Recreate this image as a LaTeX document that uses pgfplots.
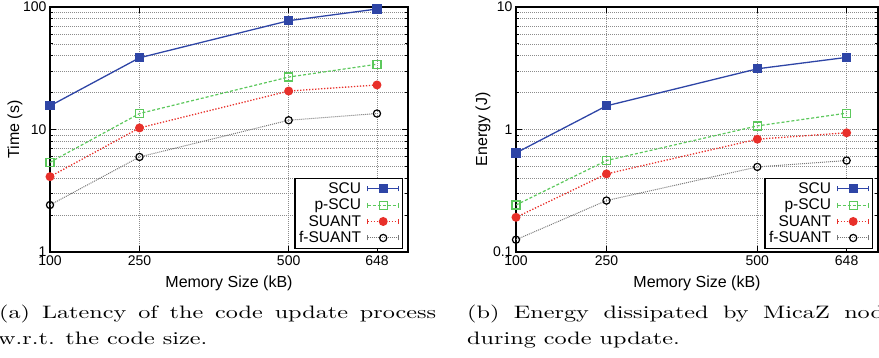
\documentclass[border=0pt]{standalone}
\usepackage{fontspec}
\setsansfont{Liberation Sans}
\usepackage{graphicx}
\usepackage{pgfplots}
\pgfplotsset{compat=1.18}
\definecolor{cscu}{RGB}{46,69,166}
\definecolor{cpscu}{RGB}{92,200,92}
\definecolor{csuant}{RGB}{232,48,42}
\definecolor{cgrid}{RGB}{140,140,140}
\definecolor{cfs}{RGB}{120,120,120}
\pgfplotsset{
  scu/.style={cscu, solid, line width=1.3pt, mark=square*, mark size=4pt, mark options={solid}},
  pscu/.style={cpscu, dash pattern=on 3pt off 2pt, line width=1.2pt, mark=square, mark size=4pt, mark options={solid, line width=1.2pt}},
  suant/.style={csuant, dash pattern=on 1.3pt off 1.7pt, line width=1.3pt, mark=*, mark size=3.8pt, mark options={solid}},
  fsuant/.style={cfs, dash pattern=on 1pt off 1pt, line width=1pt, mark=o, mark size=3.6pt, mark options={solid, black, line width=1.2pt}},
}
\begin{document}
\begin{tikzpicture}
\useasboundingbox (0pt,0pt) rectangle (879pt,357pt);
\begin{semilogyaxis}[
    scale only axis, height=245pt, width=358pt, at={(50pt,105pt)}, anchor=south west,
    xmin=100, xmax=700, ymin=1, ymax=100,
    log ticks with fixed point,
    xtick={100,250,500,648},
    axis line style={line width=2pt},
    tick style={line width=0.8pt, black},
    major tick length=6pt, minor tick length=3pt,
    xmajorgrids, ymajorgrids, yminorgrids,
    major grid style={dash pattern=on 1pt off 1pt, line width=0.75pt, cgrid},
    minor grid style={dash pattern=on 1pt off 1pt, line width=0.75pt, cgrid},
    tick label style={font=\sffamily\fontsize{14}{16}\selectfont},
    /pgf/number format/assume math mode=true,
    xlabel={Memory Size (kB)}, ylabel={Time (s)},
    xlabel style={font=\sffamily\fontsize{16}{18}\selectfont, at={(axis description cs:0.5,-0.1265)}, anchor=center},
    ylabel style={font=\sffamily\fontsize{16}{18}\selectfont, at={(axis description cs:-0.0978,0.5)}, anchor=center},
    clip mode=individual,
    legend style={at={(1,0)}, anchor=south east, xshift=-5pt, yshift=3pt,
      font=\sffamily\fontsize{15.5}{16}\selectfont, draw=black, line width=1.3pt,
      inner xsep=2pt, inner ysep=2pt, row sep=0pt},
    legend cell align=right,
    legend plot pos=right,
    legend image code/.code={
      \path (0pt,0pt) (36pt,0pt);
      \draw[mark repeat=2,mark phase=2] plot coordinates {(4pt,0pt) (19.5pt,0pt) (35pt,0pt)};
      \draw[solid] (4pt,-2.5pt) -- (4pt,2.5pt) (35pt,-2.5pt) -- (35pt,2.5pt);
    },
  ]
\addplot[scu] coordinates {(100,15.6) (250,38.5) (500,77.3) (648,96.3)};
\addlegendentry{SCU}
\addplot[pscu] coordinates {(100,5.4) (250,13.5) (500,26.8) (648,34.1)};
\addlegendentry{p-SCU}
\addplot[suant] coordinates {(100,4.12) (250,10.3) (500,20.6) (648,23.1)};
\addlegendentry{SUANT}
\addplot[fsuant] coordinates {(100,2.42) (250,5.97) (500,11.9) (648,13.5)};
\addlegendentry{f-SUANT}
\end{semilogyaxis}
\begin{semilogyaxis}[
    scale only axis, height=245pt, width=362pt, at={(516pt,105pt)}, anchor=south west,
    xmin=100, xmax=700, ymin=0.1, ymax=10,
    log ticks with fixed point,
    xtick={100,250,500,648},
    axis line style={line width=2pt},
    tick style={line width=0.8pt, black},
    major tick length=6pt, minor tick length=3pt,
    xmajorgrids, ymajorgrids, yminorgrids,
    major grid style={dash pattern=on 1pt off 1pt, line width=0.75pt, cgrid},
    minor grid style={dash pattern=on 1pt off 1pt, line width=0.75pt, cgrid},
    tick label style={font=\sffamily\fontsize{14}{16}\selectfont},
    /pgf/number format/assume math mode=true,
    xlabel={Memory Size (kB)}, ylabel={Energy (J)},
    xlabel style={font=\sffamily\fontsize{16}{18}\selectfont, at={(axis description cs:0.5,-0.1265)}, anchor=center},
    ylabel style={font=\sffamily\fontsize{16}{18}\selectfont, at={(axis description cs:-0.0912,0.5)}, anchor=center},
    clip mode=individual,
    legend style={at={(1,0)}, anchor=south east, xshift=-5pt, yshift=3pt,
      font=\sffamily\fontsize{15.5}{16}\selectfont, draw=black, line width=1.3pt,
      inner xsep=2pt, inner ysep=2pt, row sep=0pt},
    legend cell align=right,
    legend plot pos=right,
    legend image code/.code={
      \path (0pt,0pt) (36pt,0pt);
      \draw[mark repeat=2,mark phase=2] plot coordinates {(4pt,0pt) (19.5pt,0pt) (35pt,0pt)};
      \draw[solid] (4pt,-2.5pt) -- (4pt,2.5pt) (35pt,-2.5pt) -- (35pt,2.5pt);
    },
  ]
\addplot[scu] coordinates {(100,0.644) (250,1.56) (500,3.13) (648,3.88)};
\addlegendentry{SCU}
\addplot[pscu] coordinates {(100,0.242) (250,0.558) (500,1.07) (648,1.36)};
\addlegendentry{p-SCU}
\addplot[suant] coordinates {(100,0.192) (250,0.434) (500,0.834) (648,0.94)};
\addlegendentry{SUANT}
\addplot[fsuant] coordinates {(100,0.126) (250,0.263) (500,0.495) (648,0.558)};
\addlegendentry{f-SUANT}
\end{semilogyaxis}
\node[anchor=base west, inner sep=0pt] at (-1pt,39pt) {\scalebox{2.42}[1.8]{\fontsize{10}{12}\selectfont\makebox[180.6pt][s]{(a) Latency of the code update process}}};
\node[anchor=base west, inner sep=0pt] at (-2pt,13pt) {\scalebox{2.42}[1.8]{\fontsize{10}{12}\selectfont w.r.t. the code size.}};
\node[anchor=base west, inner sep=0pt] at (467pt,39pt) {\scalebox{2.42}[1.8]{\fontsize{10}{12}\selectfont\makebox[180.6pt][s]{(b) Energy dissipated by MicaZ nodes}}};
\node[anchor=base west, inner sep=0pt] at (467pt,13pt) {\scalebox{2.42}[1.8]{\fontsize{10}{12}\selectfont during code update.}};
\end{tikzpicture}
\end{document}
